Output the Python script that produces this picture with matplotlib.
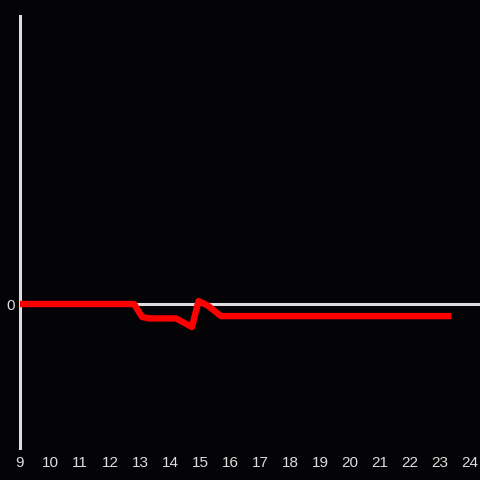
import matplotlib
matplotlib.use("Agg")
import matplotlib.pyplot as plt

x_vals = [9.0, 12.8, 13.07, 13.3, 14.2, 14.73, 14.95, 15.25, 15.7, 23.27]
y_vals = [0.0, 0.0, -0.45, -0.5, -0.5, -0.8, 0.1, -0.05, -0.42, -0.42]
x_ticks = list(range(9, 25))

bg = '#040306'
fg = '#dddddd'

fig = plt.figure(figsize=(4.8, 4.8), dpi=100, facecolor=bg)
ax = fig.add_axes([20/480, 1-448/480, 1-20/480, (448-16)/480])
ax.set_facecolor(bg)

ax.axhline(0, color=fg, lw=2.2, zorder=1)
ax.plot(x_vals, y_vals, color='#ff0000', lw=4.6, solid_joinstyle='round',
        solid_capstyle='projecting', zorder=3)

ax.set_xlim(9, 9 + 460/30)
ax.set_ylim(-5, 10)
ax.set_xticks(x_ticks)
ax.set_xticklabels([str(t) for t in x_ticks])
ax.set_yticks([0])
ax.set_yticklabels(['0'])

for s in ['top', 'right', 'bottom']:
    ax.spines[s].set_visible(False)
ax.spines['left'].set_color(fg)
ax.spines['left'].set_linewidth(2.2)
ax.spines['left'].set_zorder(2)

ax.tick_params(axis='both', length=0, colors=fg, labelsize=11)
ax.tick_params(axis='x', pad=6)
ax.tick_params(axis='y', pad=4)
for lab in ax.get_xticklabels() + ax.get_yticklabels():
    lab.set_fontfamily('Liberation Sans')

fig.savefig('out.png', dpi=100, facecolor=bg)
